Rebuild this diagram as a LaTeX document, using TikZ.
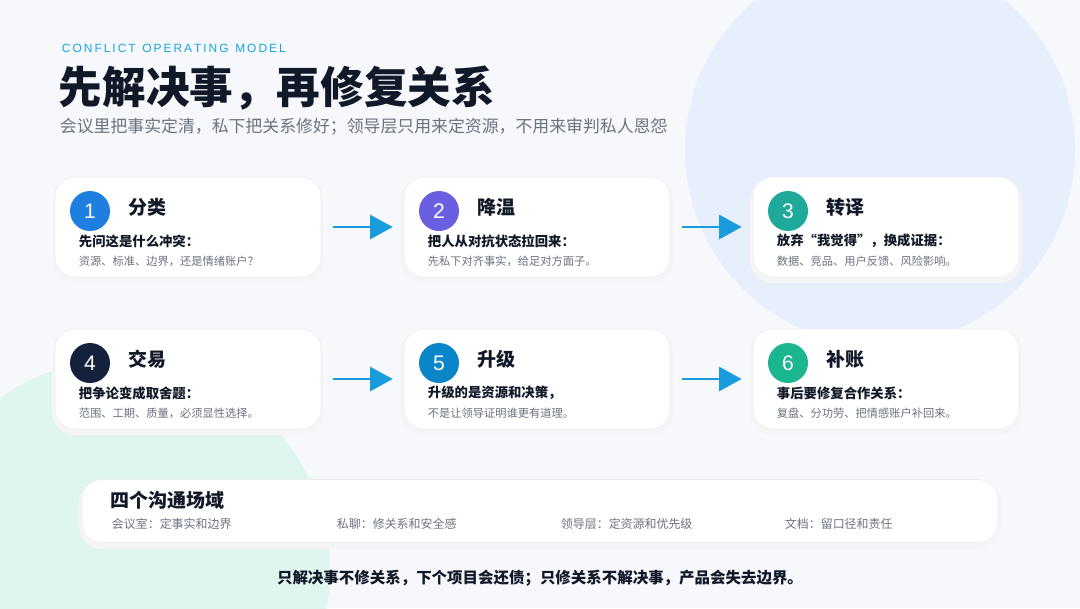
\documentclass[tikz,border=0pt]{standalone}
\usepackage{fontspec}
\setmainfont{Noto Sans CJK SC}
\newfontfamily\latinsans{Liberation Sans}
\usetikzlibrary{positioning,arrows.meta}
\definecolor{inkdark}{HTML}{111827}
\definecolor{inkgray}{HTML}{6B7280}
\definecolor{skyarrow}{HTML}{1A9BDB}
\definecolor{bgpale}{HTML}{F6F8FB}
\definecolor{bubbleblue}{HTML}{E6EFFB}
\definecolor{bubblemint}{HTML}{DFF6EF}
\tikzset{
  card/.style={draw=gray!14, line width=0.4pt, fill=white, rounded corners=14pt, minimum width=266*0.025cm, minimum height=100*0.025cm,
    preaction={draw=black!4, line width=4pt, fill=black!4, transform canvas={yshift=-2.5pt}}},
  badge/.style={circle, minimum size=40*0.025cm, inner sep=0pt, text=white, font=\latinsans\fontsize{15}{15}\selectfont},
  cardtitle/.style={anchor=west, text=inkdark, font=\bfseries\fontsize{13.5}{14}\selectfont},
  cardlead/.style={anchor=west, text=inkdark, font=\bfseries\fontsize{9.5}{10}\selectfont},
  cardnote/.style={anchor=west, text=inkgray, font=\fontsize{8}{9}\selectfont},
  flow/.style={-{Triangle[length=16pt,width=17pt]}, line width=1.8pt, draw=skyarrow, shorten <=12pt*0.711, shorten >=11pt*0.711},
}
\begin{document}
\begin{tikzpicture}[x=0.025cm, y=-0.025cm]

% --- Sfondo ---
\fill[bgpale] (0,0) rectangle (1080,608);
\useasboundingbox (0,0) rectangle (1080,608);
\begin{scope}
  \clip (0,0) rectangle (1080,608);
  \fill[bubbleblue] (880,150) circle [radius=195];
  \fill[bubblemint] (120,570) circle [radius=210];
\end{scope}

% --- Titolo ---
\node[anchor=west, text=skyarrow!90!cyan, font=\latinsans\fontsize{8.5}{9}\selectfont] (kicker) at (57,48) {C\,O\,N\,F\,L\,I\,C\,T\ \ O\,P\,E\,R\,A\,T\,I\,N\,G\ \ M\,O\,D\,E\,L};
\node[anchor=west, text=inkdark, font=\bfseries\fontsize{31}{32}\selectfont] (title) at (54,88) {先解决事，再修复关系};
\node[anchor=west, text=inkgray, font=\fontsize{12}{13}\selectfont] (subtitle) at (55,127) {会议里把事实定清，私下把关系修好；领导层只用来定资源，不用来审判私人恩怨};

% --- Schede ---
\foreach \i/\x/\y/\col/\head/\lead/\note in {
  1/188/227/1E7FE0/分类/先问这是什么冲突：/资源、标准、边界，还是情绪账户？,
  2/537/227/6A5FE0/降温/把人从对抗状态拉回来：/先私下对齐事实，给足对方面子。,
  3/886/227/1FA99A/转译/放弃“我觉得”，换成证据：/数据、竞品、用户反馈、风险影响。,
  4/188/379/14213D/交易/把争论变成取舍题：/范围、工期、质量，必须显性选择。,
  5/537/379/0A86C8/升级/升级的是资源和决策，/不是让领导证明谁更有道理。,
  6/886/379/1BB58F/补账/事后要修复合作关系：/复盘、分功劳、把情感账户补回来。} {
    \definecolor{badgecol}{HTML}{\col}
    \node[card] (c\i) at (\x,\y) {};
    \node[badge, fill=badgecol] (b\i) at (\x-98,\y-16) {\i};
    \node[cardtitle] (t\i) at (\x-64,\y-20) {\head};
    \node[cardlead] (l\i) at (\x-114,\y+14) {\lead};
    \node[cardnote] (n\i) at (\x-114,\y+34) {\note};
}

% Frecce
\foreach \a/\b in {c1/c2, c2/c3, c4/c5, c5/c6}
  \draw[flow] (\a.east) -- (\b.west);

% --- Quattro ambiti ---
\node[card, minimum width=916*0.025cm, minimum height=63*0.025cm] (venue) at (540,511) {};
\node[anchor=west, text=inkdark, font=\bfseries\fontsize{13.5}{14}\selectfont] (venuetitle) at (106,500) {四个沟通场域};
\foreach \k/\x/\txt in {a/107/会议室：定事实和边界, b/332/私聊：修关系和安全感, c/556/领导层：定资源和优先级, d/780/文档：留口径和责任}
  \node[anchor=west, text=inkgray, font=\fontsize{8.5}{9}\selectfont] (v\k) at (\x,524) {\txt};

\node[text=inkdark, font=\bfseries\fontsize{11}{12}\selectfont] (footer) at (540,578) {只解决事不修关系，下个项目会还债；只修关系不解决事，产品会失去边界。};

\end{tikzpicture}
\end{document}
